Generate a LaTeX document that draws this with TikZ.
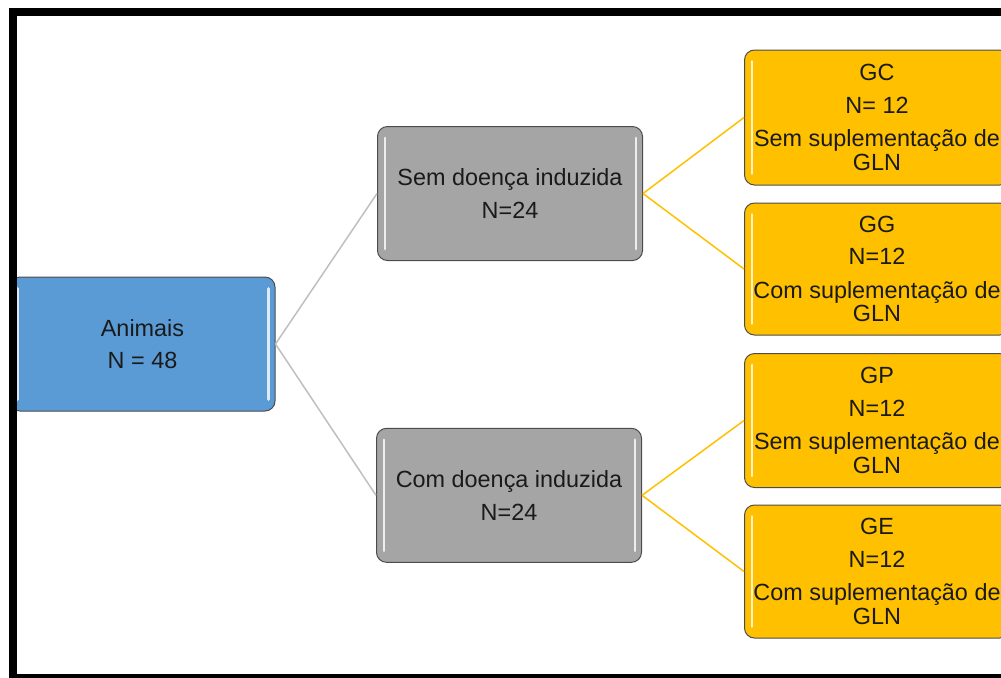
\documentclass[tikz,border=0pt]{standalone}
\usepackage{fontspec}
\setmainfont{Liberation Sans}
\usepackage{tikz}
\definecolor{animColor}{HTML}{5B9BD5}
\definecolor{groupColor}{HTML}{A5A5A5}
\definecolor{suppColor}{HTML}{FFC000}
\definecolor{edgeColor}{HTML}{BFBFBF}
\definecolor{textColor}{HTML}{1A1A1A}
\tikzset{
  caixa/.style={draw=black!70, line width=0.5pt, rounded corners=5pt,
    minimum width=132.5pt, minimum height=67pt, align=center,
    text=textColor, font=\fontsize{11.7}{11.7}\selectfont, inner sep=0pt},
  brilho/.style={white, line width=1.4pt, line cap=round, opacity=0.8}
}

\begin{document}
\begin{tikzpicture}[x=0.5pt,y=-0.5pt]
          \useasboundingbox (0,0) rectangle (1001,677);
          \clip (0,0) rectangle (1001,677);

          \node[caixa, fill=animColor] (anim) at (142.5,344) {Animais\\[4.6pt]N = 48};

          \node[caixa, fill=groupColor] (sem) at (510,193.5) {Sem doença induzida\\[4.6pt]N=24};
          \node[caixa, fill=groupColor] (com) at (509,495.3) {Com doença induzida\\[4.6pt]N=24};

          \node[caixa, fill=suppColor, minimum height=67.5pt] (gc) at (877,117.5) {GC\\[4.6pt]N= 12\\[5pt]Sem suplementação de\\GLN};
          \node[caixa, fill=suppColor, minimum height=66pt] (gg) at (877,269) {GG\\[4.6pt]N=12\\[5pt]Com suplementação de\\GLN};
          \node[caixa, fill=suppColor, minimum height=67pt] (gp) at (877,420.5) {GP\\[4.6pt]N=12\\[5pt]Sem suplementação de\\GLN};
          \node[caixa, fill=suppColor, minimum height=66.5pt] (ge) at (877,571.5) {GE\\[4.6pt]N=12\\[5pt]Com suplementação de\\GLN};

          % reflexos nas bordas
          \foreach \n in {anim,sem,com,gc,gg,gp,ge}{
            \draw[brilho] ([xshift=4pt,yshift=-6pt]\n.north west) -- ([xshift=4pt,yshift=6pt]\n.south west);
            \draw[brilho] ([xshift=-3.5pt,yshift=-6pt]\n.north east) -- ([xshift=-3.5pt,yshift=6pt]\n.south east);
          }

          \draw[edgeColor, line width=0.75pt] (anim.east) -- (sem.west);
          \draw[edgeColor, line width=0.75pt] (anim.east) -- (com.west);
          \draw[suppColor, line width=0.75pt] (sem.east) -- (gc.west);
          \draw[suppColor, line width=0.75pt] (sem.east) -- (gg.west);
          \draw[suppColor, line width=0.75pt] (com.east) -- (gp.west);
          \draw[suppColor, line width=0.75pt] (com.east) -- (ge.west);

          % moldura
          \draw[black, line width=4pt] (1020,12) -- (12.5,12) -- (12.5,678) -- (1020,678);
        \end{tikzpicture}
\end{document}
